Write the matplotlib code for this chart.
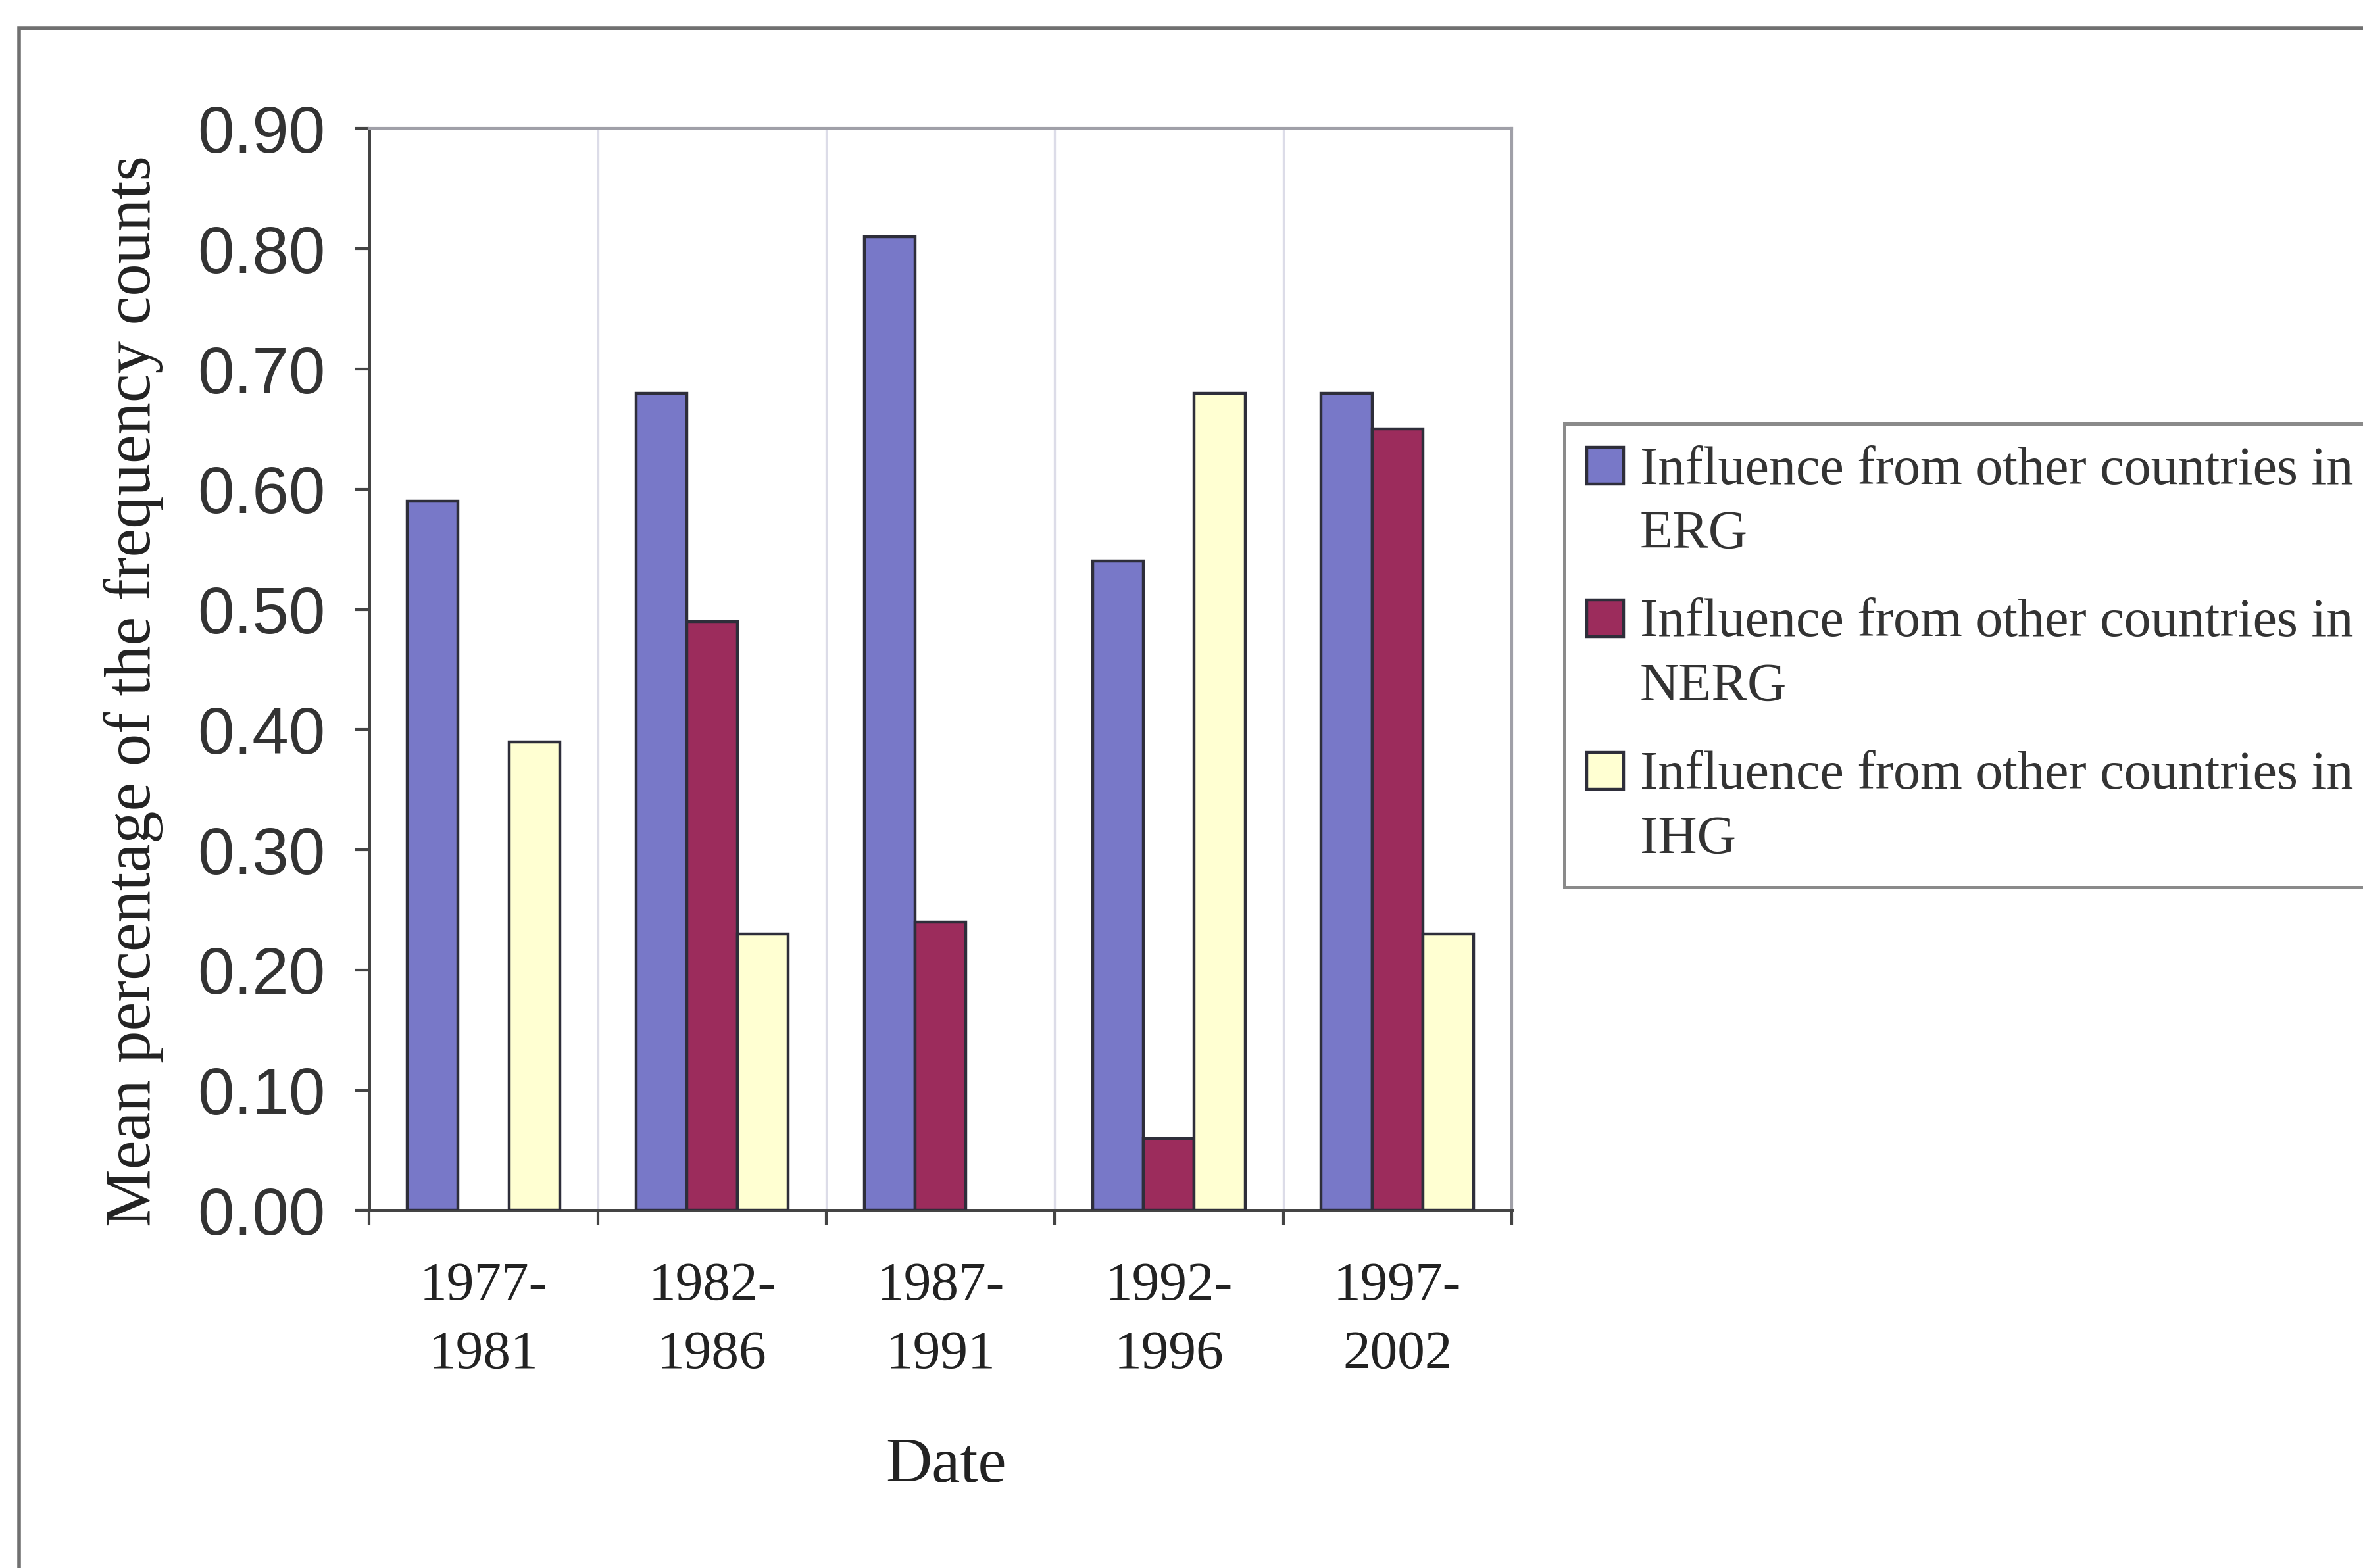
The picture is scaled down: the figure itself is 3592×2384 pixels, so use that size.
import numpy as np
import matplotlib
matplotlib.use("Agg")
import matplotlib.pyplot as plt
from matplotlib.patches import Rectangle
from matplotlib.container import BarContainer
from matplotlib.legend_handler import HandlerPatch

# mean share of frequency counts per five-year period
periods = ["1977-\n1981", "1982-\n1986", "1987-\n1991", "1992-\n1996", "1997-\n2002"]
erg = [0.59, 0.68, 0.81, 0.54, 0.68]
nerg = [np.nan, 0.49, 0.24, 0.06, 0.65]
ihg = [0.39, 0.23, np.nan, 0.68, 0.23]
series_names = ["Influence from other countries in\nERG",
                "Influence from other countries in\nNERG",
                "Influence from other countries in\nIHG"]
yticks = [0.0, 0.1, 0.2, 0.3, 0.4, 0.5, 0.6, 0.7, 0.8, 0.9]

colors = ["#7878c8", "#9c2c5c", "#ffffd2"]
edge = "#2e2e3a"

LEG_SIZE = 29.5
LEG_LINESP = 1.38

fig = plt.figure(figsize=(17.96, 11.92), dpi=200)
ax = fig.add_axes([0.1563, 0.228, 0.4834, 0.690])

x = np.arange(len(periods))
w = 1 / 4.5
for i, (vals, c, name) in enumerate(zip([erg, nerg, ihg], colors, series_names)):
    ax.bar(x + (i - 1) * w, vals, width=w, color=c, edgecolor=edge,
           linewidth=1.6, label=name, zorder=3)

ax.set_xlim(-0.5, len(periods) - 0.5)
ax.set_ylim(0, 0.9)
ax.set_yticks(yticks)
ax.set_yticklabels([f"{v:.2f}" for v in yticks], family="Liberation Sans",
                   fontsize=36, color="#333333")
ax.tick_params(axis="y", direction="out", length=8, width=1.5, color="#444444", pad=16)

ax.set_xticks(x)
ax.set_xticklabels(periods, family="Liberation Serif", fontsize=30,
                   color="#222222", linespacing=1.5)
ax.set_xticks(np.arange(-0.5, len(periods)), minor=True)
ax.tick_params(axis="x", which="major", length=0, pad=28)
ax.tick_params(axis="x", which="minor", direction="out", length=8, width=1.5, color="#444444")
ax.grid(axis="x", which="minor", color="#dcdce8", linewidth=1.2, zorder=0)

for s in ["left", "bottom"]:
    ax.spines[s].set_color("#444444")
    ax.spines[s].set_linewidth(1.8)
for s in ["top", "right"]:
    ax.spines[s].set_color("#a0a0a8")
    ax.spines[s].set_linewidth(1.5)

ax.set_ylabel("Mean percentage of the frequency counts", family="Liberation Serif",
              fontsize=35.5, color="#222222")
ax.yaxis.set_label_coords(-0.18, 0.48)
ax.set_xlabel("Date", family="Liberation Serif", fontsize=35, color="#222222")
ax.xaxis.set_label_coords(0.505, -0.21)


# legend swatch sits next to the first line of each two-line label
def top_swatch(legend, orig_handle, xdescent, ydescent, width, height, fontsize):
    shift = LEG_LINESP * fontsize / 2
    return Rectangle((-xdescent, -ydescent + shift), width, height)


def first_bar_style(legend_handle, orig_handle):
    legend_handle.update_from(orig_handle.patches[0])


swatch = HandlerPatch(patch_func=top_swatch, update_func=first_bar_style)
leg = fig.legend(loc="upper left", bbox_to_anchor=(0.662, 0.730), borderaxespad=0,
                 prop={"family": "Liberation Serif", "size": LEG_SIZE},
                 handlelength=0.68, handleheight=0.68, handletextpad=0.3,
                 labelspacing=0.72, borderpad=0.42, fancybox=False,
                 edgecolor="#8a8a8a", framealpha=1,
                 handler_map={BarContainer: swatch})
leg.get_frame().set_linewidth(1.8)
for t in leg.get_texts():
    t.set_color("#333333")
    t.set_linespacing(LEG_LINESP)

# outer chart-area border
fig.patches.append(Rectangle((0.008, -0.05), 1.2, 0.05 + 0.982, transform=fig.transFigure,
                             fill=False, edgecolor="#707070", linewidth=2))

fig.savefig("out.png", dpi=200)
